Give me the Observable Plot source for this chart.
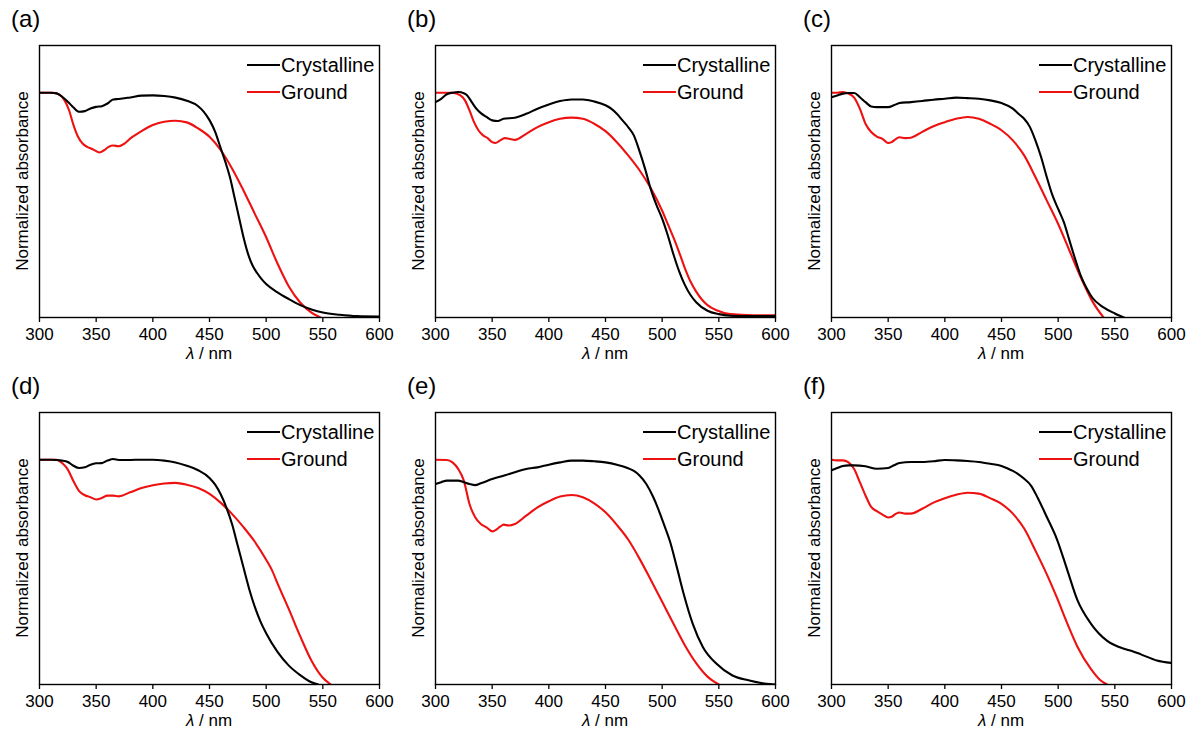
<!DOCTYPE html>
<html><head><meta charset="utf-8">
<script src="https://cdn.jsdelivr.net/npm/d3@7"></script>
<script src="https://cdn.jsdelivr.net/npm/@observablehq/plot@0.6"></script>
<style>
body{margin:0;background:#fff;font-family:"Liberation Sans",Arial,sans-serif;color:#000}
#fig{position:relative;width:1190px;height:731px;overflow:hidden;background:#fff}
.chart{position:absolute}
.plab{position:absolute;font-size:24px;line-height:1;white-space:nowrap}
.xt{position:absolute;font-size:17px;line-height:1;white-space:nowrap;transform:translate(-50%,-50%)}
.yt{position:absolute;font-size:17px;line-height:1;white-space:nowrap;transform:translate(-50%,-50%) rotate(-90deg)}
.leg{position:absolute;overflow:visible}
</style></head><body><div id="fig"></div><script>
const xTicks = [300, 350, 400, 450, 500, 550, 600];
const panelLabels = ["(a)", "(b)", "(c)", "(d)", "(e)", "(f)"];
const seriesNames = ["Crystalline", "Ground"];
const seriesColors = ["#000000", "#ee1111"];

const a_crystalline = [[300,1.0],[310,1.0],[315,0.997],[320,0.982],[325,0.96],[330,0.934],[335,0.915],[340,0.918],[345,0.93],[350,0.937],[355,0.94],[360,0.952],[365,0.97],[370,0.972],[380,0.979],[390,0.987],[400,0.988],[410,0.985],[420,0.978],[430,0.964],[440,0.94],[445,0.915],[450,0.878],[455,0.826],[460,0.751],[464,0.692],[468,0.625],[472,0.536],[476,0.446],[480,0.357],[484,0.283],[488,0.231],[492,0.198],[496,0.171],[500,0.149],[510,0.112],[520,0.082],[530,0.055],[540,0.036],[550,0.022],[565,0.012],[580,0.006],[600,0.004]];
const a_ground = [[300,1.0],[312,1.0],[318,0.99],[322,0.967],[326,0.923],[330,0.856],[334,0.804],[338,0.774],[342,0.759],[346,0.751],[350,0.74],[353,0.734],[357,0.744],[361,0.759],[365,0.765],[370,0.762],[375,0.774],[380,0.796],[390,0.829],[400,0.856],[410,0.871],[420,0.875],[430,0.868],[440,0.841],[450,0.804],[460,0.744],[470,0.662],[480,0.565],[490,0.461],[500,0.357],[510,0.24],[520,0.138],[530,0.067],[540,0.022],[548,0.0]];

const b_crystalline = [[300,0.958],[305,0.973],[310,0.993],[315,1.0],[320,1.003],[325,0.998],[328,0.988],[332,0.958],[336,0.929],[340,0.909],[345,0.892],[350,0.877],[355,0.874],[360,0.884],[370,0.889],[380,0.906],[390,0.929],[400,0.948],[410,0.963],[420,0.97],[430,0.97],[440,0.961],[450,0.944],[455,0.929],[460,0.906],[465,0.877],[470,0.847],[475,0.81],[480,0.74],[485,0.66],[490,0.57],[495,0.5],[500,0.44],[505,0.365],[510,0.28],[515,0.205],[520,0.145],[525,0.1],[530,0.068],[540,0.03],[550,0.015],[560,0.008],[580,0.006],[600,0.006]];
const b_ground = [[300,1.0],[315,1.0],[322,0.988],[326,0.966],[330,0.921],[334,0.869],[338,0.832],[342,0.81],[346,0.798],[350,0.78],[353,0.776],[357,0.788],[361,0.798],[365,0.795],[370,0.79],[380,0.817],[390,0.847],[400,0.869],[410,0.884],[420,0.889],[430,0.884],[440,0.862],[450,0.829],[460,0.78],[470,0.721],[480,0.655],[490,0.575],[500,0.475],[505,0.415],[510,0.355],[515,0.29],[520,0.22],[525,0.16],[530,0.115],[535,0.08],[540,0.055],[548,0.032],[560,0.015],[580,0.01],[600,0.01]];

const c_crystalline = [[300,0.98],[305,0.988],[310,0.996],[315,0.999],[320,0.999],[325,0.98],[330,0.958],[335,0.939],[340,0.936],[350,0.936],[355,0.944],[360,0.954],[370,0.958],[380,0.963],[390,0.969],[400,0.973],[410,0.978],[420,0.976],[430,0.973],[440,0.966],[450,0.954],[460,0.929],[465,0.906],[470,0.884],[475,0.848],[480,0.787],[485,0.713],[490,0.624],[495,0.543],[500,0.483],[505,0.424],[510,0.342],[515,0.26],[520,0.185],[525,0.131],[530,0.089],[540,0.045],[550,0.018],[558,0.0]];
const c_ground = [[300,1.0],[305,1.0],[310,1.003],[315,0.996],[320,0.978],[325,0.929],[330,0.862],[335,0.825],[340,0.805],[345,0.795],[350,0.776],[353,0.78],[357,0.795],[360,0.802],[365,0.798],[370,0.8],[380,0.826],[390,0.851],[400,0.869],[410,0.884],[420,0.892],[430,0.884],[440,0.862],[450,0.833],[460,0.788],[470,0.721],[480,0.624],[490,0.52],[500,0.416],[510,0.297],[520,0.178],[530,0.074],[540,0.0]];

const d_crystalline = [[300,1.0],[310,1.0],[320,0.996],[325,0.99],[330,0.973],[335,0.963],[340,0.966],[345,0.978],[350,0.984],[355,0.985],[360,0.996],[365,1.003],[370,0.999],[380,0.999],[390,1.0],[400,1.0],[410,0.996],[420,0.988],[430,0.973],[440,0.953],[450,0.919],[455,0.889],[460,0.845],[465,0.786],[470,0.712],[475,0.616],[480,0.52],[485,0.425],[490,0.345],[495,0.28],[500,0.228],[510,0.145],[520,0.084],[530,0.042],[540,0.01],[546,0.0]];
const d_ground = [[300,1.0],[315,1.0],[320,0.985],[325,0.956],[330,0.904],[335,0.86],[340,0.842],[345,0.833],[350,0.823],[355,0.83],[360,0.84],[365,0.84],[370,0.837],[380,0.855],[390,0.874],[400,0.886],[410,0.894],[420,0.897],[430,0.889],[440,0.874],[450,0.848],[460,0.808],[470,0.758],[480,0.7],[490,0.635],[500,0.555],[505,0.51],[510,0.45],[520,0.335],[530,0.215],[540,0.106],[550,0.03],[557,0.0]];

const e_crystalline = [[300,0.892],[305,0.9],[310,0.907],[320,0.907],[325,0.9],[330,0.892],[335,0.887],[340,0.895],[350,0.914],[360,0.929],[370,0.944],[380,0.959],[390,0.966],[400,0.978],[410,0.988],[420,0.996],[430,0.996],[440,0.993],[450,0.988],[460,0.978],[470,0.962],[475,0.95],[480,0.93],[486,0.892],[492,0.835],[497,0.775],[501,0.72],[507,0.635],[513,0.521],[519,0.403],[527,0.27],[536,0.166],[548,0.092],[562,0.04],[577,0.018],[592,0.003],[600,0.0]];
const e_ground = [[300,1.0],[310,0.999],[315,0.988],[320,0.959],[325,0.907],[330,0.803],[335,0.744],[340,0.714],[345,0.699],[350,0.681],[353,0.687],[357,0.702],[360,0.711],[365,0.707],[370,0.714],[380,0.751],[390,0.788],[400,0.815],[410,0.836],[420,0.843],[430,0.833],[440,0.806],[450,0.766],[460,0.71],[470,0.645],[480,0.56],[490,0.465],[500,0.368],[510,0.27],[520,0.175],[530,0.095],[540,0.035],[550,0.0]];

const f_crystalline = [[300,0.953],[305,0.963],[310,0.972],[315,0.975],[320,0.975],[330,0.971],[340,0.96],[350,0.963],[355,0.975],[360,0.985],[370,0.99],[380,0.99],[390,0.993],[400,0.999],[410,0.997],[420,0.994],[430,0.99],[440,0.982],[450,0.972],[455,0.962],[460,0.95],[465,0.935],[470,0.915],[476,0.885],[482,0.83],[490,0.745],[499,0.645],[508,0.51],[517,0.375],[529,0.27],[543,0.195],[558,0.159],[565,0.149],[573,0.134],[587,0.107],[600,0.096]];
const f_ground = [[300,1.0],[305,0.997],[310,0.997],[315,0.988],[320,0.959],[325,0.9],[330,0.841],[335,0.79],[340,0.771],[345,0.756],[350,0.743],[353,0.746],[357,0.76],[360,0.765],[365,0.76],[370,0.76],[380,0.782],[390,0.809],[400,0.829],[410,0.844],[420,0.853],[430,0.849],[440,0.829],[450,0.804],[460,0.76],[470,0.694],[480,0.595],[490,0.49],[499,0.385],[508,0.272],[517,0.168],[529,0.068],[537,0.02],[543,0.0]];

const panelSeries = [
  [a_crystalline, a_ground], [b_crystalline, b_ground], [c_crystalline, c_ground],
  [d_crystalline, d_ground], [e_crystalline, e_ground], [f_crystalline, f_ground]
];

// layout
const frameW = 340, frameH = 272;
const colLeft = [39, 435, 831], rowTop = [45, 412];
const mL = 24, mR = 24, mT = 4, mB = 36;
const FONT = "'Liberation Sans', Arial, sans-serif";
const fig = document.getElementById("fig");

panelSeries.forEach((series, i) => {
  const left = colLeft[i % 3], top = rowTop[Math.floor(i / 3)];
  const chart = Plot.plot({
    width: frameW + mL + mR,
    height: frameH + mT + mB,
    marginLeft: mL, marginRight: mR, marginTop: mT, marginBottom: mB,
    style: {fontFamily: FONT, fontSize: "17px", color: "#000", background: "transparent", overflow: "visible"},
    x: {domain: [300, 600]},
    y: {domain: [0, 1.21], axis: null},
    marks: [
      Plot.line(series[1], {x: d => d[0], y: d => d[1], stroke: seriesColors[1], strokeWidth: 2.1, curve: "monotone-x", clip: true}),
      Plot.line(series[0], {x: d => d[0], y: d => d[1], stroke: seriesColors[0], strokeWidth: 2.1, curve: "monotone-x", clip: true}),
      Plot.frame({stroke: "#000", strokeWidth: 1.4}),
      Plot.axisX({ticks: xTicks, tickSize: 5, tickPadding: 5, label: null, fontSize: 17, strokeWidth: 1.3})
    ]
  });
  chart.classList.add("chart");
  chart.style.left = (left - mL) + "px";
  chart.style.top = (top - mT) + "px";
  fig.appendChild(chart);

  const pl = document.createElement("div");
  pl.className = "plab"; pl.textContent = panelLabels[i];
  pl.style.left = (left - 28) + "px"; pl.style.top = (top - 38) + "px";
  fig.appendChild(pl);

  const xt = document.createElement("div");
  xt.className = "xt"; xt.innerHTML = "<i>λ</i> / nm";
  xt.style.left = (left + frameW / 2) + "px"; xt.style.top = (top + frameH + 36) + "px";
  fig.appendChild(xt);

  const yt = document.createElement("div");
  yt.className = "yt"; yt.textContent = "Normalized absorbance";
  yt.style.left = (left - 17) + "px"; yt.style.top = (top + frameH / 2) + "px";
  fig.appendChild(yt);

  const ns = "http://www.w3.org/2000/svg";
  const leg = document.createElementNS(ns, "svg");
  leg.setAttribute("class", "leg");
  leg.setAttribute("width", 134); leg.setAttribute("height", 60);
  leg.style.left = (left + frameW - 132) + "px"; leg.style.top = (top + 6) + "px";
  seriesNames.forEach((name, k) => {
    const yy = 14 + k * 27;
    const ln = document.createElementNS(ns, "line");
    ln.setAttribute("x1", 0); ln.setAttribute("x2", 33);
    ln.setAttribute("y1", yy); ln.setAttribute("y2", yy);
    ln.setAttribute("stroke", seriesColors[k]); ln.setAttribute("stroke-width", 2.1);
    leg.appendChild(ln);
    const tx = document.createElementNS(ns, "text");
    tx.setAttribute("x", 34); tx.setAttribute("y", yy);
    tx.setAttribute("dy", "0.35em");
    tx.setAttribute("font-family", FONT); tx.setAttribute("font-size", 20);
    tx.textContent = name;
    leg.appendChild(tx);
  });
  fig.appendChild(leg);
});
</script></body></html>
